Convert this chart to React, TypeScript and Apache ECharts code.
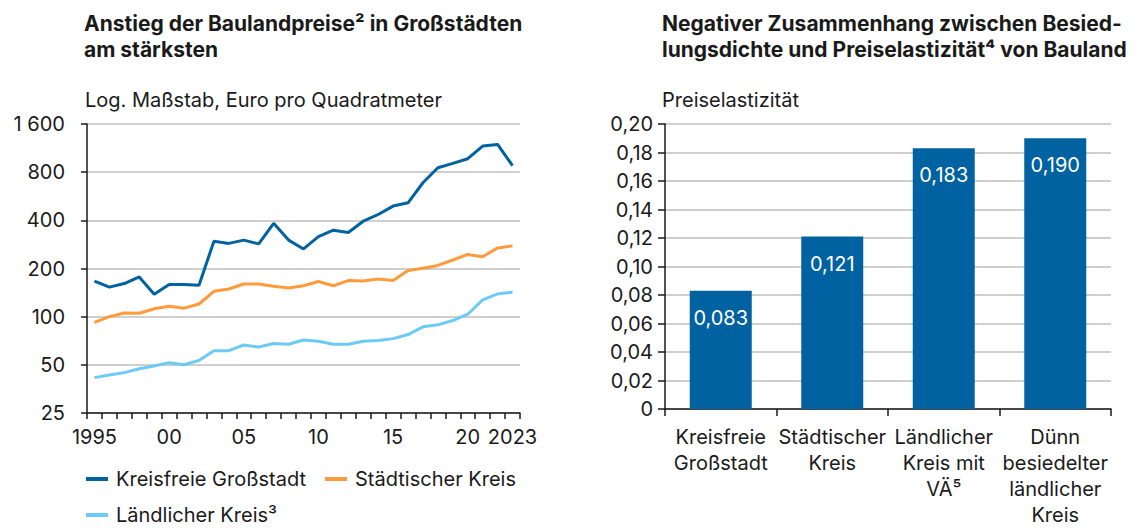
import React, { useEffect, useRef } from "react";
import * as echarts from "echarts";

// ---------- Data ----------
const years = [
  "1995", "1996", "1997", "1998", "1999", "2000", "2001", "2002", "2003", "2004",
  "2005", "2006", "2007", "2008", "2009", "2010", "2011", "2012", "2013", "2014",
  "2015", "2016", "2017", "2018", "2019", "2020", "2021", "2022", "2023",
];
const shownYearLabels = ["1995", "2000", "2005", "2010", "2015", "2020", "2023"];

const kreisfreieGrossstadt = [
  167, 153, 161, 177, 138, 159, 159, 157, 296, 287,
  301, 285, 383, 301, 265, 316, 347, 336, 395, 435,
  491, 515, 687, 853, 908, 971, 1165, 1193, 878,
];
const staedtischerKreis = [
  92, 100, 105.5, 105, 112, 116, 113, 120, 144, 149,
  160, 160, 155, 151, 156, 166, 156, 168, 167, 172,
  168, 194, 201, 209, 226, 245, 237, 269, 277,
];
const laendlicherKreis = [
  41.6, 43.2, 44.7, 47.3, 49.2, 51.6, 50.1, 53.3, 61.3, 61.3,
  66.5, 64.6, 67.9, 67.2, 71.5, 70.2, 67.2, 67.2, 70.2, 71,
  72.9, 77.3, 86.4, 88.9, 94.6, 103.6, 127.4, 138.8, 142.2,
];
// log axis ticks (base 2, starting at 25)
const logBaseValue = 25;
const logTickLabels = ["25", "50", "100", "200", "400", "800", "1 600"];

const elasticityCategories = [
  "Kreisfreie\nGroßstadt",
  "Städtischer\nKreis",
  "Ländlicher\nKreis mit\nVÄ⁵",
  "Dünn\nbesiedelter\nländlicher\nKreis",
];
const elasticityValues = [0.083, 0.121, 0.183, 0.19];

const seriesNames = ["Kreisfreie Großstadt", "Städtischer Kreis", "Ländlicher Kreis³"];

// ---------- Styles ----------
const FONT = "Inter, 'DejaVu Sans', sans-serif";
const TEXT = "#1a1a1a";
const DARK_BLUE = "#0062a1";
const ORANGE = "#ff9a3d";
const LIGHT_BLUE = "#6ccbf4";
const GRID_COLOR = "#bfbfbf";
const FS = 20;

const toLog = (v: number) => Math.log2(v / logBaseValue);
const comma = (v: number, d: number) => v.toFixed(d).replace(".", ",");

export default function App() {
  const ref = useRef<HTMLDivElement>(null);

  useEffect(() => {
    if (!ref.current) return;
    const chart = echarts.init(ref.current, undefined, { renderer: "svg" });

    const axisLine = { show: true, lineStyle: { color: TEXT, width: 1.5 } };
    const splitLine = { show: true, lineStyle: { color: GRID_COLOR, width: 1.5 } };
    const labelStyle = { color: TEXT, fontFamily: FONT, fontSize: FS };

    const lineSeries = (name: string, data: number[], color: string) => ({
      name,
      type: "line",
      xAxisIndex: 0,
      yAxisIndex: 0,
      data: data.map(toLog),
      symbol: "none",
      lineStyle: { color, width: 3 },
      itemStyle: { color },
      z: 3,
    });

    const legendBase = {
      icon: "rect",
      itemWidth: 22,
      itemHeight: 4,
      itemGap: 19,
      padding: 0,
      left: 86,
      textStyle: { ...labelStyle, lineHeight: 18, padding: [0, 0, 0, 3] },
    };

    chart.setOption({
      animation: false,
      backgroundColor: "#ffffff",
      textStyle: { fontFamily: FONT },
      graphic: [
        {
          type: "text",
          left: 84,
          top: 10,
          style: {
            text: "Anstieg der Baulandpreise² in Großstädten\nam stärksten",
            font: `bold 21px ${FONT}`,
            lineHeight: 26,
            fill: TEXT,
          },
        },
        {
          type: "text",
          left: 85,
          top: 90,
          style: {
            text: "Log. Maßstab, Euro pro Quadratmeter",
            font: `${FS}px ${FONT}`,
            fill: TEXT,
          },
        },
        {
          type: "text",
          left: 662,
          top: 10,
          style: {
            text: "Negativer Zusammenhang zwischen Besied-\nlungsdichte und Preiselastizität⁴ von Bauland",
            font: `bold 21px ${FONT}`,
            lineHeight: 26,
            fill: TEXT,
          },
        },
        {
          type: "text",
          left: 662,
          top: 90,
          style: {
            text: "Preiselastizität",
            font: `${FS}px ${FONT}`,
            fill: TEXT,
          },
        },
      ],
      legend: [
        { ...legendBase, data: [seriesNames[0], seriesNames[1]], top: 469 },
        { ...legendBase, data: [seriesNames[2]], top: 505 },
      ],
      grid: [
        { left: 87, top: 124, width: 433, height: 289 },
        { left: 665, top: 124, width: 446, height: 289 },
      ],
      xAxis: [
        {
          type: "category",
          gridIndex: 0,
          data: years,
          boundaryGap: true,
          axisLine,
          axisTick: { show: true, interval: 0, length: 6, lineStyle: { color: TEXT, width: 1.5 } },
          axisLabel: {
            ...labelStyle,
            margin: 14,
            interval: (_i: number, v: string) => shownYearLabels.includes(v),
            formatter: (v: string) => (v === "1995" || v === "2023" ? v : v.slice(2)),
          },
          splitLine: { show: false },
        },
        {
          type: "category",
          gridIndex: 1,
          data: elasticityCategories,
          boundaryGap: true,
          axisLine,
          axisTick: { show: true, interval: 0, length: 7, lineStyle: { color: TEXT, width: 1.5 } },
          axisLabel: { ...labelStyle, margin: 15, lineHeight: 26, interval: 0, align: "center" },
        },
      ],
      yAxis: [
        {
          type: "value",
          gridIndex: 0,
          min: 0,
          max: logTickLabels.length - 1,
          interval: 1,
          axisLine,
          axisTick: { show: true, length: 6, lineStyle: { color: TEXT, width: 1.5 } },
          axisLabel: {
            ...labelStyle,
            margin: 22,
            formatter: (v: number) => logTickLabels[Math.round(v)] ?? "",
          },
          splitLine,
        },
        {
          type: "value",
          gridIndex: 1,
          min: 0,
          max: 0.2,
          interval: 0.02,
          axisLine,
          axisTick: { show: true, length: 7, lineStyle: { color: TEXT, width: 1.5 } },
          axisLabel: {
            ...labelStyle,
            margin: 12,
            formatter: (v: number) => (v === 0 ? "0" : comma(v, 2)),
          },
          splitLine,
        },
      ],
      series: [
        lineSeries(seriesNames[0], kreisfreieGrossstadt, DARK_BLUE),
        lineSeries(seriesNames[1], staedtischerKreis, ORANGE),
        lineSeries(seriesNames[2], laendlicherKreis, LIGHT_BLUE),
        {
          name: "Preiselastizität",
          type: "bar",
          xAxisIndex: 1,
          yAxisIndex: 1,
          data: elasticityValues,
          barWidth: "55.6%",
          itemStyle: { color: DARK_BLUE },
          label: {
            show: true,
            position: "insideTop",
            distance: 17,
            color: "#ffffff",
            fontFamily: FONT,
            fontSize: FS,
            formatter: (p: any) => comma(p.value, 3),
          },
        },
      ],
    });

    return () => chart.dispose();
  }, []);

  return <div ref={ref} style={{ width: 1137, height: 528, position: "absolute", left: 0, top: 0 }} />;
}
